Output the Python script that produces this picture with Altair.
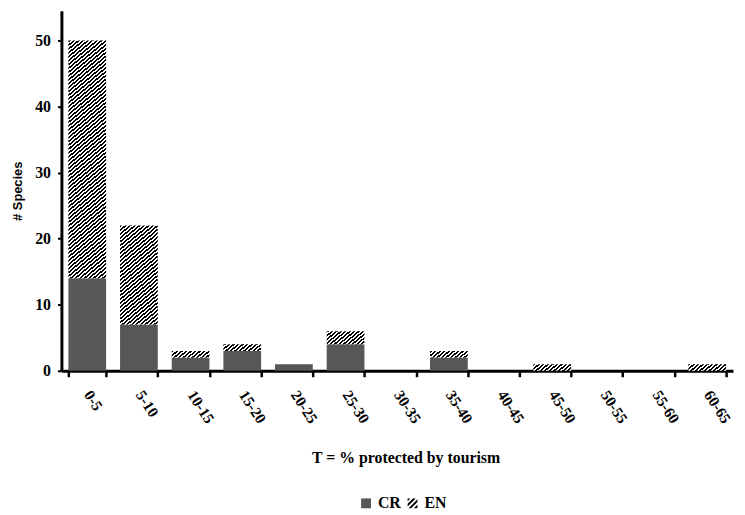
import math
import altair as alt
import pandas as pd

categories = ["0-5", "5-10", "10-15", "15-20", "20-25", "25-30", "30-35",
              "35-40", "40-45", "45-50", "50-55", "55-60", "60-65"]
cr_values = [14, 7, 2, 3, 1, 4, 0, 2, 0, 0, 0, 0, 0]
en_values = [36, 15, 1, 1, 0, 2, 0, 1, 0, 1, 0, 0, 1]
statuses = ["CR", "EN"]

CR_COLOR = "#575757"
PLOT_W, PLOT_H = 679, 364
Y_MAX = 54.5
PAD_IN, PAD_OUT = 0.27, 0.135
PITCH = 3.0
BLACK_FRAC = 0.52
THETA = math.radians(40)

df = pd.DataFrame({"cat": categories, "CR": cr_values, "EN": en_values})
df["total"] = df["CR"] + df["EN"]

serif = "Liberation Serif"
sans = "Liberation Sans"


def hatch_gradient(w, h):
    s, c = math.sin(THETA), math.cos(THETA)
    d = w * s + h * c
    n = max(1, round(d / PITCH))
    al, be = w * s / d, h * c / d
    nn = al * al + be * be
    stops = []
    for i in range(n):
        a0, b0, c0 = i / n, (i + BLACK_FRAC) / n, (i + 1) / n
        stops += [
            alt.GradientStop(offset=a0, color="#000000"),
            alt.GradientStop(offset=b0, color="#000000"),
            alt.GradientStop(offset=b0, color="#ffffff"),
            alt.GradientStop(offset=c0, color="#ffffff"),
        ]
    return alt.Gradient(gradient="linear", stops=stops, x1=0, y1=0, x2=al / nn, y2=be / nn)


def clip(poly, c, keep_ge):
    def val(p):
        return p[0] + p[1]

    def inside(p):
        return val(p) >= c if keep_ge else val(p) <= c

    def inter(p, q):
        t = (c - val(p)) / (val(q) - val(p))
        return (p[0] + t * (q[0] - p[0]), p[1] + t * (q[1] - p[1]))

    out = []
    for i in range(len(poly)):
        cur, prev = poly[i], poly[i - 1]
        if inside(cur):
            if not inside(prev):
                out.append(inter(prev, cur))
            out.append(cur)
        elif inside(prev):
            out.append(inter(prev, cur))
    return out


def hatch_path(symbol_px=9.0):
    unit = symbol_px / 2.0
    period = PITCH * 1.15 * math.sqrt(2) / unit
    square = [(-1, -1), (1, -1), (1, 1), (-1, 1)]
    parts = []
    c0 = -2.0 - period
    while c0 < 2.0:
        poly = clip(clip(square, c0, True), c0 + BLACK_FRAC * period, False)
        if len(poly) >= 3:
            parts.append("M" + " L".join(f"{x:.3f},{y:.3f}" for x, y in poly) + " Z")
        c0 += period
    return " ".join(parts)


x_enc = alt.X(
    "cat:N",
    sort=categories,
    scale=alt.Scale(domain=categories, paddingInner=PAD_IN, paddingOuter=PAD_OUT),
    axis=alt.Axis(
        title="T = % protected by tourism",
        titleFont=serif, titleFontWeight="bold", titleFontSize=16, titleColor="#000",
        titleX=348, titleY=93, titleAlign="center", titleBaseline="alphabetic",
        labelAngle=57, labelAlign="left", labelBaseline="middle",
        labelFont=serif, labelFontWeight="bold", labelFontSize=15.5, labelColor="#000",
        labelPadding=15,
        tickBand="extent", tickSize=6, tickWidth=2.5, tickColor="#000",
        domainWidth=3, domainColor="#000", grid=False,
    ),
)

y_scale = alt.Scale(domain=[0, Y_MAX], nice=False)
y_axis = alt.Axis(
    values=[0, 10, 20, 30, 40, 50],
    title="# Species",
    titleFont=sans, titleFontWeight="bold", titleFontSize=13, titleColor="#000",
    titlePadding=10,
    labelFont=serif, labelFontWeight="bold", labelFontSize=16, labelColor="#000",
    labelPadding=7,
    tickSize=4, tickWidth=2, tickColor="#000",
    domainWidth=3, domainColor="#000", grid=False,
)

base = alt.Chart(df)

cr_layer = base.mark_bar(color=CR_COLOR).encode(
    x=x_enc,
    y=alt.Y("CR:Q", scale=y_scale, axis=y_axis),
).transform_filter("datum.CR > 0")

step = PLOT_W / (len(categories) - PAD_IN + 2 * PAD_OUT)
bar_w = step * (1 - PAD_IN)
px_per_unit = PLOT_H / Y_MAX

en_layers = []
for cat, cr, en in zip(categories, cr_values, en_values):
    if en <= 0:
        continue
    grad = hatch_gradient(bar_w, en * px_per_unit)
    en_layers.append(
        base.mark_bar(fill=grad).encode(
            x=x_enc,
            y=alt.Y("CR:Q", scale=y_scale, axis=y_axis),
            y2=alt.Y2("total:Q"),
        ).transform_filter(f"datum.cat == '{cat}'")
    )

legend_props = dict(
    title=None, orient="none", legendX=300, legendY=490, direction="horizontal",
    labelFont=serif, labelFontWeight="bold", labelFontSize=16, labelColor="#000",
    symbolSize=100, symbolStrokeWidth=0, columnPadding=3, labelOffset=4,
)
legend_df = pd.DataFrame({"status": statuses})
legend_layer = alt.Chart(legend_df).mark_point(filled=True, strokeWidth=0, opacity=1).encode(
    color=alt.Color("status:N", scale=alt.Scale(domain=statuses, range=[CR_COLOR, "#000000"]),
                    legend=alt.Legend(**legend_props)),
    shape=alt.Shape("status:N", scale=alt.Scale(domain=statuses, range=["square", hatch_path()]),
                    legend=alt.Legend(**legend_props)),
).transform_filter("false")

chart = alt.layer(cr_layer, *en_layers, legend_layer).properties(
    width=PLOT_W,
    height=PLOT_H,
    background="white",
    autosize=alt.AutoSizeParams(type="none"),
    padding={"left": 54, "top": 0, "right": 4, "bottom": 143},
).configure_view(stroke=None)

chart.save("out.html", embed_options={"renderer": "svg", "actions": False})
